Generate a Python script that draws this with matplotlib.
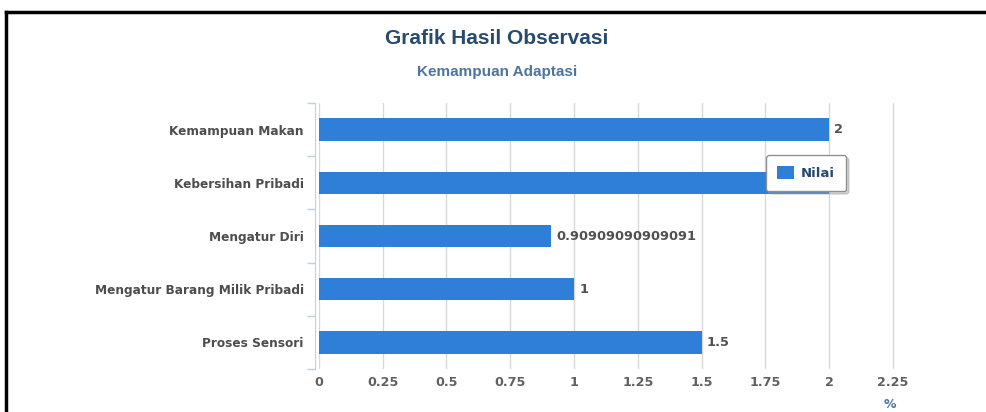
import matplotlib.pyplot as plt
from matplotlib.lines import Line2D

# Chart data
categories = ["Kemampuan Makan", "Kebersihan Pribadi", "Mengatur Diri",
              "Mengatur Barang Milik Pribadi", "Proses Sensori"]
values = [2, 2, 0.90909090909091, 1, 1.5]
x_ticks = [0, 0.25, 0.5, 0.75, 1, 1.25, 1.5, 1.75, 2, 2.25]
x_tick_labels = ["0", "0.25", "0.5", "0.75", "1", "1.25", "1.5", "1.75", "2", "2.25"]
series_name = "Nilai"

bar_color = "#2f7ed8"
label_font = {"family": "DejaVu Sans", "weight": "bold"}

fig = plt.figure(figsize=(9.87, 4.12), dpi=100)
ax = fig.add_axes([319 / 987, 43 / 412, 580 / 987, 266 / 412])

# spine position first: it resets the ticks
for side in ["top", "right", "bottom"]:
    ax.spines[side].set_visible(False)
ax.spines["left"].set_color("#c0d0e0")
ax.spines["left"].set_position(("outward", 3))

y_pos = list(range(len(categories)))
ax.barh(y_pos, values, height=0.42, color=bar_color, label=series_name, zorder=3)
ax.set_ylim(-0.5, len(categories) - 0.5)
ax.invert_yaxis()
ax.set_xlim(0, 580 / 255)

# value labels
for y, v in zip(y_pos, values):
    ax.text(v + 0.02, y, str(v), va="center", ha="left", fontsize=9.3,
            color="#505050", zorder=4, **label_font)

# x axis: ticks and grid
ax.set_xticks(x_ticks)
ax.set_xticklabels(x_tick_labels, fontsize=9.2, color="#606060", **label_font)
ax.tick_params(axis="x", length=0, pad=5)
ax.grid(axis="x", color="#d8d8d8", linewidth=1, zorder=0)

# y axis: categories, ticks between bands
ax.set_yticks(y_pos)
ax.set_yticks([i - 0.5 for i in range(len(categories) + 1)], minor=True)
ax.tick_params(axis="y", which="major", length=0, pad=8)
ax.tick_params(axis="y", which="minor", length=6, color="#c0d0e0", width=1)
ax.set_yticklabels(categories, fontsize=8.7, color="#4d4d4d", **label_font)

fig.text(896 / 987, 1 - 404 / 412, "%", ha="right", va="center", fontsize=9,
         color="#4d759e", **label_font)

# titles
fig.text(497 / 987, 1 - 38 / 412, "Grafik Hasil Observasi", ha="center", va="center",
         fontsize=15, fontweight="bold", family="Liberation Sans", color="#274b6d")
fig.text(497 / 987, 1 - 72 / 412, "Kemampuan Adaptasi", ha="center", va="center",
         fontsize=11, fontweight="bold", family="Liberation Sans", color="#4d759e")

# legend
leg = ax.legend(loc="upper left", bbox_to_anchor=(766 / 987, 1 - 155 / 412),
                bbox_transform=fig.transFigure, borderaxespad=0, fancybox=True,
                shadow={"color": "0.6", "alpha": 0.4},
                frameon=True, handlelength=1.3, handleheight=1.1, borderpad=0.85,
                handletextpad=0.5, prop={"family": "DejaVu Sans", "weight": "bold", "size": 9.5})
leg.set_zorder(10)
leg.get_frame().set_edgecolor("#909090")
leg.get_frame().set_linewidth(1)
for t in leg.get_texts():
    t.set_color("#274b6d")

# outer page frame
fig.add_artist(Line2D([6 / 987, 1], [1 - 12 / 412, 1 - 12 / 412], transform=fig.transFigure,
                      color="black", linewidth=2.5))
fig.add_artist(Line2D([6 / 987, 6 / 987], [0, 1 - 12 / 412], transform=fig.transFigure,
                      color="black", linewidth=2.5))

fig.savefig("out.png", dpi=100)
